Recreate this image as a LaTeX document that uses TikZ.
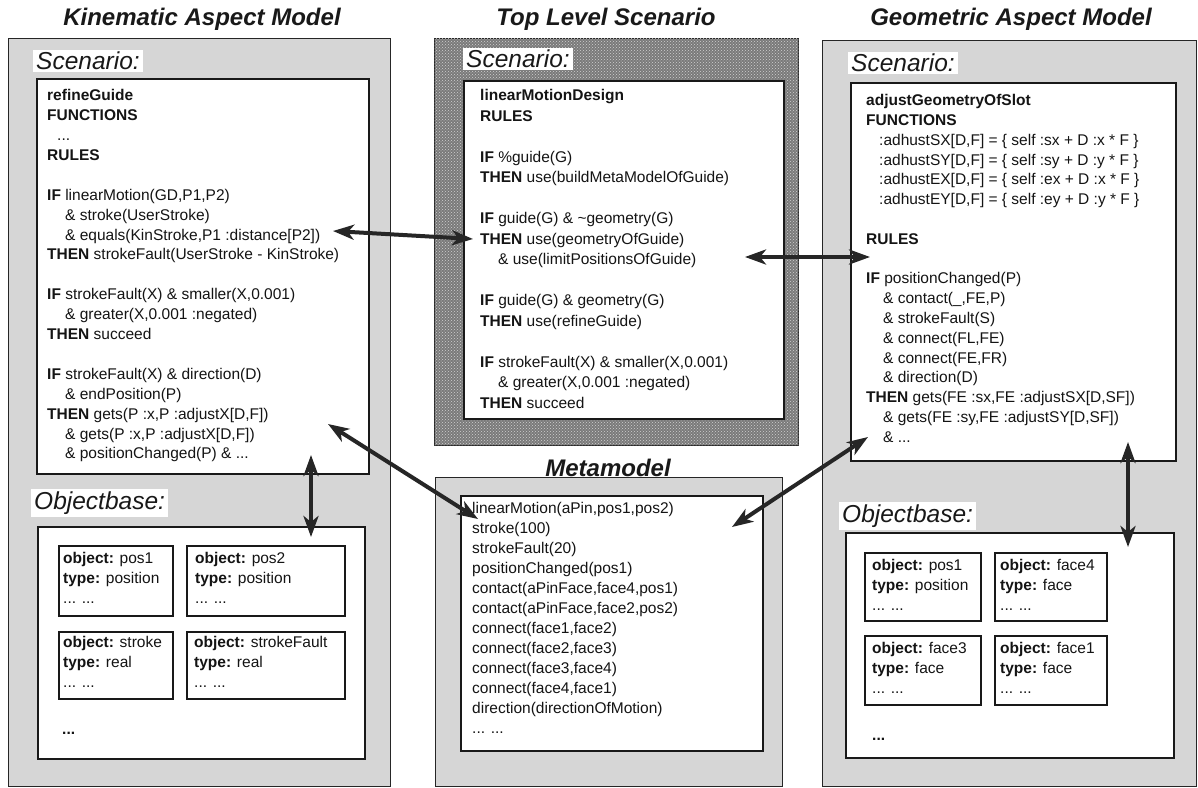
\documentclass[tikz,border=0pt]{standalone}
\usepackage{fontspec}
\setmainfont{Liberation Sans}
\usetikzlibrary{arrows.meta,patterns}
\begin{document}
\begin{tikzpicture}[x=1pt,y=-1pt,
  every node/.style={inner sep=0pt},
  panel/.style={draw=black!85, line width=1.4pt, fill=black!16, anchor=north west},
  hatchpanel/.style={draw=black!85, line width=1.4pt, fill=black!52, anchor=north west,
     postaction={pattern=crosshatch dots, pattern color=black!18}},
  innerbox/.style={draw=black!90, line width=2.2pt, fill=white, anchor=north west},
  objbox/.style={draw=black!90, line width=2pt, fill=white, anchor=north west},
  title/.style={font=\fontsize{24}{28}\selectfont\bfseries\itshape, text=black!90},
  lbl/.style={font=\fontsize{24.5}{28}\selectfont\itshape, fill=white, inner xsep=3pt, inner ysep=2.5pt, anchor=west, text=black!90},
  code/.style={font=\fontsize{15.5}{19.9}\selectfont, align=left, anchor=north west, text=black!92},
  dbl/.style={line width=4pt, draw=black!85,
     {Stealth[length=21pt,width=15pt,inset=6pt]}-{Stealth[length=21pt,width=15pt,inset=6pt]}}
]
\useasboundingbox (0,0) rectangle (1198,787);
\fill[white] (0,0) rectangle (1198,787);

% titles
\node[title] (tkin) at (202,19) {Kinematic Aspect Model};
\node[title] (ttop) at (606,19) {Top Level Scenario};
\node[title] (tgeo) at (1011,19) {Geometric Aspect Model};
\node[title] (tmeta) at (608,468) {Metamodel};

% panels
\node[panel, minimum width=382pt, minimum height=748pt] (kinpanel) at (8,38) {};
\node[hatchpanel, minimum width=364pt, minimum height=407pt] (toppanel) at (434,38) {};
\node[panel, minimum width=347pt, minimum height=309pt] (metapanel) at (435,477) {};
\node[panel, minimum width=374pt, minimum height=746pt] (geopanel) at (822,40) {};

% inner boxes
\node[innerbox, minimum width=332pt, minimum height=395pt] (kinscen) at (36,78) {};
\node[innerbox, minimum width=327pt, minimum height=232pt] (kinobj) at (37,526) {};
\node[innerbox, minimum width=320pt, minimum height=338pt] (topscen) at (463,80) {};
\node[innerbox, minimum width=302pt, minimum height=255pt] (metabox) at (460,495) {};
\node[innerbox, minimum width=325pt, minimum height=378pt] (geoscen) at (850,82) {};
\node[innerbox, minimum width=328pt, minimum height=225pt] (geoobj) at (845,532) {};

% labels
\node[lbl] (lkins) at (33,61) {Scenario:};
\node[lbl] (ltops) at (463,59) {Scenario:};
\node[lbl] (lgeos) at (848,63) {Scenario:};
\node[lbl] (lkino) at (31,503) {Objectbase:};
\node[lbl] (lgeoo) at (839,516) {Objectbase:};

% left scenario text
\node[code] (kintext) at (47,86.6) {\strut\textbf{refineGuide}\\
\textbf{FUNCTIONS}\\
\hspace*{10pt}...\\
\textbf{RULES}\\[19.9pt]
\textbf{IF} linearMotion(GD,P1,P2)\\
\hspace*{18pt}\& stroke(UserStroke)\\
\hspace*{18pt}\& equals(KinStroke,P1 :distance[P2])\\
\textbf{THEN} strokeFault(UserStroke - KinStroke)\\[19.9pt]
\textbf{IF} strokeFault(X) \& smaller(X,0.001)\\
\hspace*{18pt}\& greater(X,0.001 :negated)\\
\textbf{THEN} succeed\\[19.9pt]
\textbf{IF} strokeFault(X) \& direction(D)\\
\hspace*{18pt}\& endPosition(P)\\
\textbf{THEN} gets(P :x,P :adjustX[D,F])\\
\hspace*{18pt}\& gets(P :x,P :adjustX[D,F])\\
\hspace*{18pt}\& positionChanged(P) \& ...};

% center scenario text
\node[code, font=\fontsize{15.5}{20.5}\selectfont] (toptext) at (480,86) {\strut\textbf{linearMotionDesign}\\
\textbf{RULES}\\[20.5pt]
\textbf{IF} \%guide(G)\\
\textbf{THEN} use(buildMetaModelOfGuide)\\[20.5pt]
\textbf{IF} guide(G) \& \textasciitilde geometry(G)\\
\textbf{THEN} use(geometryOfGuide)\\
\hspace*{18pt}\& use(limitPositionsOfGuide)\\[20.5pt]
\textbf{IF} guide(G) \& geometry(G)\\
\textbf{THEN} use(refineGuide)\\[20.5pt]
\textbf{IF} strokeFault(X) \& smaller(X,0.001)\\
\hspace*{18pt}\& greater(X,0.001 :negated)\\
\textbf{THEN} succeed};

% right scenario text
\node[code, font=\fontsize{15.5}{19.8}\selectfont] (geotext) at (866,91.6) {\strut\textbf{adjustGeometryOfSlot}\\
\textbf{FUNCTIONS}\\
\hspace*{13pt}:adhustSX[D,F] = \{ self :sx + D :x * F \}\\
\hspace*{13pt}:adhustSY[D,F] = \{ self :sy + D :y * F \}\\
\hspace*{13pt}:adhustEX[D,F] = \{ self :ex + D :x * F \}\\
\hspace*{13pt}:adhustEY[D,F] = \{ self :ey + D :y * F \}\\[19.8pt]
\textbf{RULES}\\[19.8pt]
\textbf{IF} positionChanged(P)\\
\hspace*{17pt}\& contact(\_,FE,P)\\
\hspace*{17pt}\& strokeFault(S)\\
\hspace*{17pt}\& connect(FL,FE)\\
\hspace*{17pt}\& connect(FE,FR)\\
\hspace*{17pt}\& direction(D)\\
\textbf{THEN} gets(FE :sx,FE :adjustSX[D,SF])\\
\hspace*{17pt}\& gets(FE :sy,FE :adjustSY[D,SF])\\
\hspace*{17pt}\& ...};

% metamodel text
\node[code, font=\fontsize{15.5}{20}\selectfont] (metatext) at (472,499.5) {\strut linearMotion(aPin,pos1,pos2)\\
stroke(100)\\
strokeFault(20)\\
positionChanged(pos1)\\
contact(aPinFace,face4,pos1)\\
contact(aPinFace,face2,pos2)\\
connect(face1,face2)\\
connect(face2,face3)\\
connect(face3,face4)\\
connect(face4,face1)\\
direction(directionOfMotion)\\
... ...};

% left object boxes
\node[objbox, minimum width=114pt, minimum height=70pt] (ko1) at (58,545) {};
\node[objbox, minimum width=158pt, minimum height=70pt] (ko2) at (186,545) {};
\node[objbox, minimum width=114pt, minimum height=67pt] (ko3) at (58,631) {};
\node[objbox, minimum width=158pt, minimum height=67pt] (ko4) at (186,631) {};
\node[code] (ko1t) at (63,549.6) {\strut\textbf{object:} pos1\\ \textbf{type:} position\\ ... ...};
\node[code] (ko2t) at (195,549.6) {\strut\textbf{object:} pos2\\ \textbf{type:} position\\ ... ...};
\node[code] (ko3t) at (63,633.6) {\strut\textbf{object:} stroke\\ \textbf{type:} real\\ ... ...};
\node[code] (ko4t) at (194,633.6) {\strut\textbf{object:} strokeFault\\ \textbf{type:} real\\ ... ...};
\node[code, font=\fontsize{15.5}{19.9}\selectfont\bfseries] (kdots) at (62,720) {\strut...};

% right object boxes
\node[objbox, minimum width=116pt, minimum height=68pt] (go1) at (864,552) {};
\node[objbox, minimum width=112pt, minimum height=68pt] (go2) at (994,552) {};
\node[objbox, minimum width=116pt, minimum height=69pt] (go3) at (864,635) {};
\node[objbox, minimum width=112pt, minimum height=69pt] (go4) at (994,635) {};
\node[code] (go1t) at (872,556.6) {\strut\textbf{object:} pos1\\ \textbf{type:} position\\ ... ...};
\node[code] (go2t) at (1000,556.6) {\strut\textbf{object:} face4\\ \textbf{type:} face\\ ... ...};
\node[code] (go3t) at (872,639.6) {\strut\textbf{object:} face3\\ \textbf{type:} face\\ ... ...};
\node[code] (go4t) at (1000,639.6) {\strut\textbf{object:} face1\\ \textbf{type:} face\\ ... ...};
\node[code, font=\fontsize{15.5}{19.9}\selectfont\bfseries] (gdots) at (872,726) {\strut...};

% arrow end points
\coordinate (a1k) at (333,231);
\coordinate (a1t) at (473,239);
\coordinate (a2t) at (745,257);
\coordinate (a2g) at (870,257);
\coordinate (a3k) at (328,424);
\coordinate (a3m) at (478,519);
\coordinate (a4g) at (868,437);
\coordinate (a4m) at (732,527);
\coordinate (a5s) at (311,455);
\coordinate (a5o) at (311,537);
\coordinate (a6s) at (1128,442);
\coordinate (a6o) at (1128,547);

\draw[dbl] (a1k) -- (a1t);
\draw[dbl] (a2t) -- (a2g);
\draw[dbl] (a3k) -- (a3m);
\draw[dbl] (a4g) -- (a4m);
\draw[dbl] (a5s) -- (a5o);
\draw[dbl] (a6s) -- (a6o);
\end{tikzpicture}
\end{document}
